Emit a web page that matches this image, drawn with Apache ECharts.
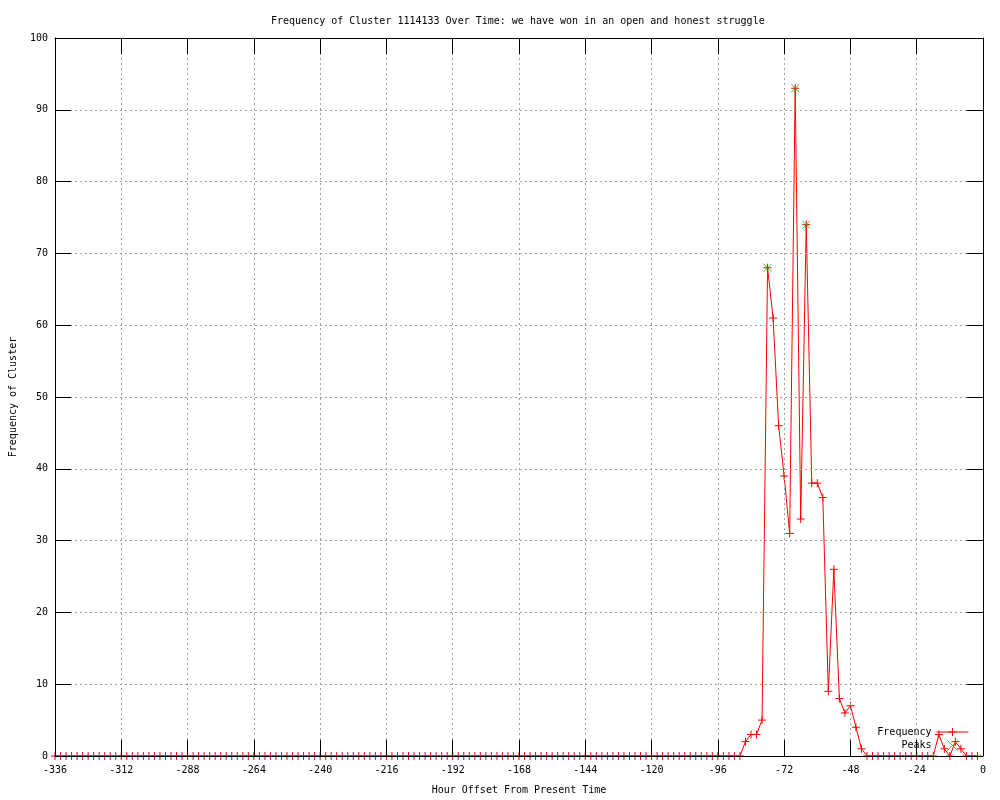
<!DOCTYPE html>
<html><head><meta charset="utf-8">
<script src="https://cdn.jsdelivr.net/npm/echarts@6/dist/echarts.min.js"></script>
<style>html,body{margin:0;padding:0;background:#fff}#c{width:1000px;height:800px}</style>
</head><body><div id="c"></div>
<script>
const hours = [
  -336,-334,-332,-330,-328,-326,-324,-322,-320,-318,-316,-314,
  -312,-310,-308,-306,-304,-302,-300,-298,-296,-294,-292,-290,
  -288,-286,-284,-282,-280,-278,-276,-274,-272,-270,-268,-266,
  -264,-262,-260,-258,-256,-254,-252,-250,-248,-246,-244,-242,
  -240,-238,-236,-234,-232,-230,-228,-226,-224,-222,-220,-218,
  -216,-214,-212,-210,-208,-206,-204,-202,-200,-198,-196,-194,
  -192,-190,-188,-186,-184,-182,-180,-178,-176,-174,-172,-170,
  -168,-166,-164,-162,-160,-158,-156,-154,-152,-150,-148,-146,
  -144,-142,-140,-138,-136,-134,-132,-130,-128,-126,-124,-122,
  -120,-118,-116,-114,-112,-110,-108,-106,-104,-102,-100,-98,
  -96,-94,-92,-90,-88,-86,-84,-82,-80,-78,-76,-74,
  -72,-70,-68,-66,-64,-62,-60,-58,-56,-54,-52,-50,
  -48,-46,-44,-42,-40,-38,-36,-34,-32,-30,-28,-26,
  -24,-22,-20,-18,-16,-14,-12,-10,-8,-6,-4,-2
];
const freq = [
  0,0,0,0,0,0,0,0,0,0,0,0,
  0,0,0,0,0,0,0,0,0,0,0,0,
  0,0,0,0,0,0,0,0,0,0,0,0,
  0,0,0,0,0,0,0,0,0,0,0,0,
  0,0,0,0,0,0,0,0,0,0,0,0,
  0,0,0,0,0,0,0,0,0,0,0,0,
  0,0,0,0,0,0,0,0,0,0,0,0,
  0,0,0,0,0,0,0,0,0,0,0,0,
  0,0,0,0,0,0,0,0,0,0,0,0,
  0,0,0,0,0,0,0,0,0,0,0,0,
  0,0,0,0,0,2,3,3,5,68,61,46,
  39,31,93,33,74,38,38,36,9,26,8,6,
  7,4,1,0,0,0,0,0,0,0,0,0,
  0,0,0,0,3,1,0,2,1,0,0,0
];
const peakHours = [-78, -68, -64];
const peakValues = [68, 93, 74];

const FONT = 'DejaVu Sans Mono';
const chart = echarts.init(document.getElementById('c'), null, {renderer: 'canvas'});
const plus = 'path://M0 4L8 4M4 0L4 8';
const cross = 'path://M0 0L8 8M8 0L0 8';
const gridLine = {show: true, lineStyle: {color: '#a0a0a0', type: [2, 3], width: 1}};
const axLine = {show: true, onZero: false, lineStyle: {color: '#000', width: 1}};
const axTick = {show: true, inside: true, length: 16, lineStyle: {color: '#000', width: 1}};
const txt = {fontFamily: FONT, fontSize: 10, color: '#000'};

const option = {
  animation: false,
  backgroundColor: '#fff',
  textStyle: {fontFamily: FONT},
  title: {
    text: 'Frequency of Cluster 1114133 Over Time: we have won in an open and honest struggle',
    left: 266, top: 11,
    textStyle: Object.assign({fontWeight: 'normal'}, txt)
  },
  grid: {left: 55, right: 17, top: 38, bottom: 40, containLabel: false},
  legend: {
    orient: 'vertical', right: 31, top: 727, align: 'right',
    itemWidth: 32, itemHeight: 10, itemGap: 3, padding: 0,
    textStyle: txt,
    itemStyle: {borderWidth: 1},
    lineStyle: {width: 1},
    data: ['Frequency', {name: 'Peaks', icon: cross}]
  },
  xAxis: [
    {type: 'value', min: -336, max: 0, interval: 24, position: 'bottom', z: 5,
     axisLine: axLine, axisTick: axTick,
     axisLabel: Object.assign({margin: 9}, txt),
     splitLine: gridLine,
     name: 'Hour Offset From Present Time', nameLocation: 'middle', nameGap: 29,
     nameTextStyle: txt},
    {type: 'value', min: -336, max: 0, interval: 24, position: 'top', z: 5,
     axisLine: axLine, axisTick: axTick, axisLabel: {show: false}, splitLine: {show: false}}
  ],
  yAxis: [
    {type: 'value', min: 0, max: 100, interval: 10, position: 'left', z: 5,
     axisLine: axLine, axisTick: axTick,
     axisLabel: Object.assign({margin: 7}, txt),
     splitLine: gridLine,
     name: 'Frequency of Cluster', nameLocation: 'middle', nameGap: 37,
     nameTextStyle: txt},
    {type: 'value', min: 0, max: 100, interval: 10, position: 'right', z: 5,
     axisLine: axLine, axisTick: axTick, axisLabel: {show: false}, splitLine: {show: false}}
  ],
  series: [
    {name: 'Frequency', type: 'line', xAxisIndex: 0, yAxisIndex: 0,
     data: hours.map((h, i) => [h, freq[i]]),
     symbol: plus, symbolSize: 8, showAllSymbol: true,
     lineStyle: {color: '#ff0000', width: 1},
     itemStyle: {color: '#ff0000', borderColor: '#ff0000', borderWidth: 1},
     emphasis: {disabled: true}, z: 2},
    {name: 'Peaks', type: 'scatter', xAxisIndex: 0, yAxisIndex: 0,
     data: peakHours.map((h, i) => [h, peakValues[i]]),
     symbol: cross, symbolSize: 8,
     itemStyle: {color: '#00c000', borderColor: '#00c000', borderWidth: 1},
     emphasis: {disabled: true}, z: 3}
  ]
};
chart.setOption(option);
</script>
</body></html>
